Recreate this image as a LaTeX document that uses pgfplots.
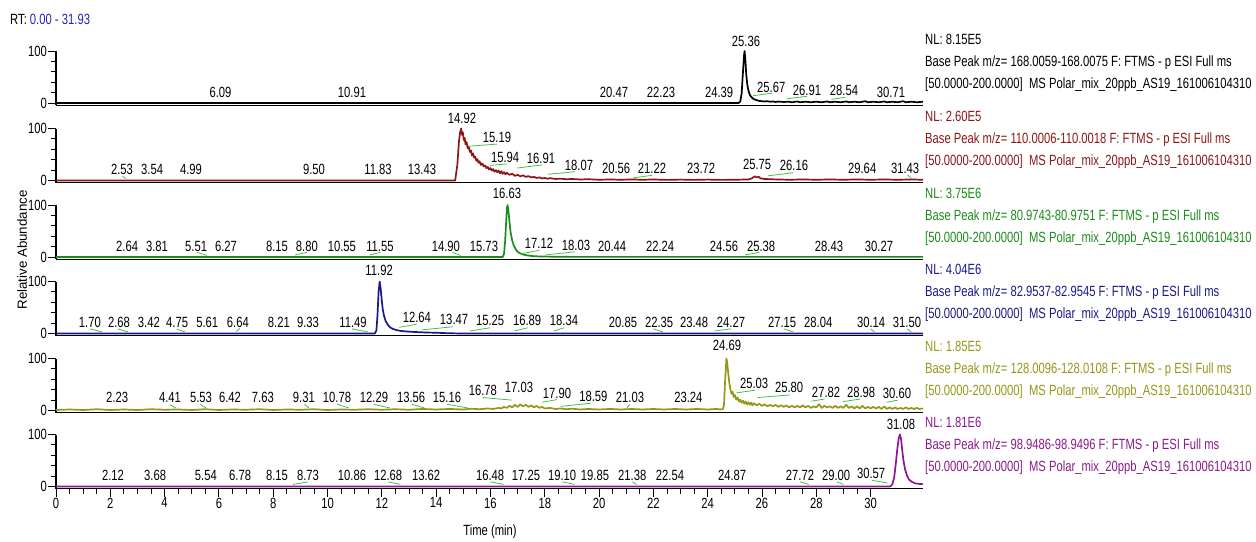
\documentclass[border=0pt]{standalone}
\usepackage{fontspec}
\setmainfont{Liberation Sans}[FakeStretch=0.76]
\newfontfamily\widesans{Liberation Sans}
\usepackage{pgfplots}
\pgfplotsset{compat=1.18}

\definecolor{trBlack}{RGB}{0,0,0}
\definecolor{trRed}{RGB}{140,22,22}
\definecolor{trGreen}{RGB}{25,140,25}
\definecolor{trBlue}{RGB}{25,25,135}
\definecolor{trOlive}{RGB}{150,150,25}
\definecolor{trPurple}{RGB}{140,25,140}
\definecolor{rtBlue}{RGB}{35,35,185}
\definecolor{leaderGreen}{RGB}{70,190,70}

\newcommand{\fs}{\fontsize{14.8}{17}\selectfont}
% peak label: x, y (axis units), text
\newcommand{\pk}[3]{\node[pklabel] at (axis cs:#1,#2) {#3};}
% leader line from a peak to its shifted label
\newcommand{\ld}[4]{\draw[leader] (axis cs:#1,#2) -- (axis cs:#3,#4);}

\tikzset{
  pklabel/.style={anchor=base, inner sep=0pt, font=\fs, text=black},
  leader/.style={leaderGreen, line width=0.8pt},
  info/.style={anchor=base west, inner sep=0pt, font=\fs},
}

\pgfplotsset{
  panel/.style={
    scale only axis, width=867pt, height=54.08pt,
    xmin=0, xmax=31.93, ymin=-4, ymax=100,
    axis x line=bottom, axis y line=left,
    axis line style={-, black, line width=1.1pt},
    xtick=\empty, ytick={0,100}, minor ytick={20,40,60,80},
    tick align=outside, major tick length=8pt, minor tick length=5pt,
    every tick/.style={black, line width=0.9pt},
    yticklabel style={font=\fs, inner sep=1pt},
    /pgf/number format/assume math mode=true,
    clip=false,
  },
  trace/.style={line width=1.7pt, line join=round},
}

\begin{document}
\begin{tikzpicture}
\path[use as bounding box] (0,0) rectangle (1256pt,-541pt);

% ---------- 1: m/z 168.0059-168.0075 ----------
\begin{axis}[panel, at={(56pt,-105.1pt)}, anchor=south west]
\addplot[trace, trBlack] coordinates {
(0,0) (25.14,0) (25.2,3) (25.25,18) (25.3,60) (25.34,92) (25.36,100) (25.39,82)
(25.42,55) (25.46,35) (25.5,24) (25.55,16) (25.6,12) (25.66,9) (25.72,7) (25.8,5.5)
(25.9,4) (26.0,3.5) (26.1,3) (26.2,3.5) (26.3,2.5) (26.4,3) (26.5,2) (26.6,2.8)
(26.8,2) (27.0,2.5) (27.1,1.5) (27.3,3) (27.4,1.5) (27.6,2.5) (27.8,1.5) (28.0,2.5)
(28.2,1.5) (28.4,3) (28.5,1.5) (28.7,2.5) (28.9,1.5) (29.1,3) (29.2,1.5) (29.4,2.5)
(29.6,1.5) (29.8,3.5) (29.9,1.5) (30.1,2.5) (30.3,1.5) (30.5,3) (30.6,1.5) (30.8,2.5)
(31.0,1.5) (31.2,3.5) (31.3,1.5) (31.5,2.5) (31.7,1.5) (31.93,2.5)
};
\pk{6.06}{11.5}{6.09}
\pk{10.90}{11.5}{10.91}
\pk{20.55}{11.5}{20.47}
\pk{22.28}{11.5}{22.23}
\pk{24.42}{11.5}{24.39}
\pk{25.41}{109}{25.36}
\pk{26.34}{21}{25.67} \ld{25.67}{14}{26.37}{19}
\pk{27.66}{15.4}{26.91} \ld{26.91}{8}{27.66}{13}
\pk{29.02}{15.4}{28.54} \ld{28.56}{7}{29.06}{11}
\pk{30.75}{11.5}{30.71}
\end{axis}

% ---------- 2: m/z 110.0006-110.0018 ----------
\begin{axis}[panel, at={(56pt,-182.6pt)}, anchor=south west]
\addplot[trace, trRed] coordinates {
(0,0) (14.70,0) (14.78,30) (14.84,75) (14.88,92) (14.92,100) (14.95,88) (14.98,93)
(15.02,78) (15.05,82) (15.08,70) (15.12,74) (15.16,62) (15.2,65) (15.24,55) (15.28,58)
(15.32,48) (15.36,52) (15.4,44) (15.44,46) (15.48,38) (15.52,41) (15.56,34) (15.6,37)
(15.65,30) (15.7,33) (15.75,27) (15.8,29) (15.85,24) (15.9,26) (15.95,21) (16.0,24)
(16.05,19) (16.1,22) (16.15,17) (16.2,20) (16.25,16) (16.3,19) (16.35,14) (16.4,18)
(16.45,13) (16.5,16) (16.55,12) (16.6,15) (16.7,11) (16.8,13) (16.9,9) (17.0,11)
(17.1,8) (17.2,10) (17.3,7) (17.4,8.5) (17.5,6) (17.6,7) (17.7,5) (17.8,6)
(17.9,4) (18.0,5) (18.1,3.5) (18.2,4.5) (18.4,3) (18.6,3.5) (18.8,2.5) (19.0,3)
(19.3,2) (19.6,2.5) (20.0,1.5) (20.4,2) (20.8,1.5) (21.2,2) (21.6,1.5) (22.0,2)
(22.5,1.2) (23.0,1.8) (23.5,1.2) (24.0,1.8) (24.5,1.2) (25.0,1.5) (25.5,2) (25.62,4)
(25.7,7) (25.75,8) (25.8,6) (25.88,7) (25.95,4) (26.1,3) (26.3,2.5) (26.6,2)
(27.0,1.5) (27.5,2) (28.0,1.5) (28.5,2) (29.0,1.5) (29.5,2) (30.0,1.5) (30.5,2)
(31.0,1.5) (31.5,2) (31.93,1.5)
};
\pk{2.43}{11.5}{2.53} \ld{2.45}{8}{2.58}{4}
\pk{3.54}{11.5}{3.54}
\pk{4.97}{11.5}{4.99}
\pk{9.50}{11.5}{9.50}
\pk{11.86}{11.5}{11.83}
\pk{13.48}{11.5}{13.43}
\pk{14.95}{109}{14.92}
\pk{16.24}{73}{15.19} \ld{15.19}{66}{16.24}{70}
\pk{16.54}{35}{15.94} \ld{15.99}{29}{16.61}{32}
\pk{17.86}{33}{16.91} \ld{16.98}{24}{17.9}{30}
\pk{19.26}{20}{18.07} \ld{18.12}{12}{19.12}{17}
\pk{20.63}{13}{20.56}
\pk{21.95}{13}{21.22} \ld{21.25}{5}{21.95}{10}
\pk{23.76}{13}{23.72}
\pk{25.82}{21}{25.75}
\pk{27.18}{19}{26.16} \ld{26.22}{9}{27.15}{15}
\pk{29.69}{13}{29.64}
\pk{31.27}{13}{31.43} \ld{31.36}{11}{31.5}{4}
\end{axis}

% ---------- 3: m/z 80.9743-80.9751 ----------
\begin{axis}[panel, at={(56pt,-259.1pt)}, anchor=south west]
\addplot[trace, trGreen] coordinates {
(0,0) (16.45,0) (16.5,6) (16.54,30) (16.58,70) (16.61,95) (16.63,100) (16.66,90)
(16.7,68) (16.74,48) (16.8,32) (16.86,22) (16.93,15) (17.0,10) (17.1,7) (17.2,5)
(17.3,3.5) (17.45,2.5) (17.6,1.5) (17.9,1) (18.4,0.5) (19.0,0.3) (31.93,0.3)
};
\pk{2.62}{11.5}{2.64}
\pk{3.72}{11.5}{3.81}
\pk{5.16}{11.5}{5.51} \ld{5.2}{9}{5.56}{3}
\pk{6.26}{11.5}{6.27}
\pk{8.14}{11.5}{8.15}
\pk{9.24}{11.5}{8.80} \ld{8.80}{4}{9.24}{9}
\pk{10.53}{11.5}{10.55}
\pk{11.93}{11.5}{11.55} \ld{11.55}{4}{11.95}{9}
\pk{14.36}{11.5}{14.90} \ld{14.6}{9}{14.9}{3}
\pk{15.76}{11.5}{15.73}
\pk{16.61}{113}{16.63}
\pk{17.79}{17}{17.12} \ld{17.12}{6}{17.8}{13}
\pk{19.15}{13.5}{18.03} \ld{18.03}{4}{19.1}{10}
\pk{20.48}{11.5}{20.44}
\pk{22.25}{11.5}{22.24}
\pk{24.60}{11.5}{24.56}
\pk{25.97}{11.5}{25.38} \ld{25.38}{4}{25.9}{9}
\pk{28.47}{11.5}{28.43}
\pk{30.31}{11.5}{30.27}
\end{axis}

% ---------- 4: m/z 82.9537-82.9545 ----------
\begin{axis}[panel, at={(56pt,-335.6pt)}, anchor=south west]
\addplot[trace, trBlue] coordinates {
(0,0) (11.74,0) (11.8,6) (11.84,35) (11.88,80) (11.92,100) (11.95,90) (11.99,68)
(12.03,48) (12.08,34) (12.14,24) (12.22,17) (12.3,12) (12.4,9) (12.55,6.5) (12.7,5)
(12.9,4) (13.2,3) (13.6,2) (14.0,1.5) (14.5,0.5) (15.0,0) (31.93,0)
};
\pk{1.25}{11.5}{1.70} \ld{1.25}{9}{1.70}{3}
\pk{2.32}{11.5}{2.68} \ld{2.28}{9}{2.65}{3}
\pk{3.42}{11.5}{3.42}
\pk{4.46}{11.5}{4.75} \ld{4.46}{8}{4.75}{3}
\pk{5.57}{11.5}{5.61}
\pk{6.70}{11.5}{6.64} \ld{6.64}{4}{6.78}{10}
\pk{8.21}{11.5}{8.21}
\pk{9.28}{11.5}{9.33}
\pk{10.94}{11.5}{11.49} \ld{10.9}{9}{11.49}{3}
\pk{11.90}{111}{11.92}
\pk{13.29}{21}{12.64} \ld{12.64}{12}{13.29}{18}
\pk{14.66}{17}{13.47} \ld{13.47}{7}{14.62}{13}
\pk{15.99}{15}{15.25} \ld{15.25}{5}{15.99}{11}
\pk{17.35}{15}{16.89} \ld{16.89}{5}{17.37}{11}
\pk{18.71}{15}{18.34} \ld{18.34}{5}{18.71}{11}
\pk{20.88}{11.5}{20.85}
\pk{22.21}{11.5}{22.35} \ld{22.0}{9}{22.35}{3}
\pk{23.50}{11.5}{23.48}
\pk{24.86}{11.5}{24.27} \ld{24.27}{5}{24.86}{9}
\pk{26.74}{11.5}{27.15} \ld{26.8}{9}{27.15}{3}
\pk{28.07}{11.5}{28.04}
\pk{30.02}{11.5}{30.14} \ld{30.0}{9}{30.14}{3}
\pk{31.34}{11.5}{31.50} \ld{31.34}{9}{31.5}{3}
\end{axis}

% ---------- 5: m/z 128.0096-128.0108 ----------
\begin{axis}[panel, at={(56pt,-412.6pt)}, anchor=south west]
\addplot[trace, trOlive] coordinates {
(0,1) (0.5,2) (1,1) (1.5,2.5) (2,1) (2.5,2) (3,1) (3.5,2.5) (4,1.5) (4.5,2)
(5,1) (5.5,2.5) (6,1) (6.5,2) (7,1.5) (7.5,2.5) (8,1) (8.5,2) (9,1.5) (9.5,2.5)
(10,1) (10.5,2) (11,1.5) (11.5,2.5) (12,1.5) (12.5,2.5) (13,1.5) (13.5,3) (14,2)
(14.5,3) (15,2) (15.3,3.5) (15.6,2.5) (15.9,4) (16.1,3) (16.3,5) (16.4,4) (16.5,7)
(16.6,5) (16.7,9) (16.8,6) (16.9,11) (17.0,7) (17.1,12) (17.2,8) (17.3,11) (17.4,7)
(17.5,10) (17.6,6) (17.7,9) (17.8,5) (17.9,7) (18.0,4) (18.2,5) (18.4,3) (18.6,4)
(18.8,2.5) (19,3.5) (19.3,2) (19.6,3) (20,2) (20.4,3) (20.8,2) (21.2,3) (21.6,2)
(22,3) (22.4,2) (22.8,3) (23.2,2) (23.6,3) (24,2) (24.3,3) (24.55,2) (24.6,10)
(24.64,55) (24.69,100) (24.72,92) (24.76,70) (24.8,52) (24.84,40) (24.88,32)
(24.92,36) (24.96,26) (25.0,30) (25.05,21) (25.1,25) (25.15,17) (25.2,21) (25.25,15)
(25.3,19) (25.35,13) (25.4,17) (25.45,12) (25.5,16) (25.55,11) (25.6,15) (25.65,10)
(25.7,14) (25.8,10) (25.9,13) (26.0,9) (26.1,12) (26.2,8) (26.3,11) (26.4,8)
(26.5,11) (26.6,7) (26.7,10) (26.8,7) (26.9,10) (27.0,6) (27.1,9) (27.2,6) (27.3,9)
(27.4,6) (27.5,10) (27.6,6) (27.7,9) (27.8,5) (27.9,8) (28.0,6) (28.1,12) (28.2,5)
(28.3,9) (28.4,6) (28.5,8) (28.6,5) (28.7,9) (28.8,5) (28.9,8) (29.0,5) (29.1,11)
(29.2,5) (29.3,8) (29.4,4) (29.5,8) (29.6,4) (29.7,9) (29.8,4) (29.9,7) (30.0,4)
(30.1,7) (30.2,4) (30.3,7) (30.4,3) (30.5,8) (30.6,3) (30.7,6) (30.8,3) (30.9,6)
(31.0,3) (31.1,5) (31.2,3) (31.3,6) (31.4,3) (31.5,5) (31.6,3) (31.7,5) (31.8,3)
(31.93,4)
};
\pk{2.25}{14.5}{2.23}
\pk{4.20}{14.5}{4.41} \ld{4.2}{11}{4.41}{5}
\pk{5.34}{14.5}{5.53} \ld{5.3}{12}{5.53}{5}
\pk{6.41}{14.5}{6.42}
\pk{7.62}{14.5}{7.63}
\pk{9.13}{14.5}{9.31} \ld{9.15}{12}{9.31}{5}
\pk{10.35}{16}{10.78} \ld{10.35}{12}{10.78}{5}
\pk{11.71}{16}{12.29} \ld{11.7}{12}{12.29}{5}
\pk{13.08}{16}{13.56} \ld{13.1}{12}{13.56}{5}
\pk{14.40}{16}{15.16} \ld{14.4}{12}{15.16}{5}
\pk{15.72}{28}{16.78} \ld{15.72}{25}{16.78}{20}
\pk{17.05}{34}{17.03}
\pk{18.45}{24}{17.90} \ld{17.90}{16}{18.45}{21}
\pk{19.79}{17}{18.59} \ld{18.59}{8}{19.7}{14}
\pk{21.14}{14.5}{21.03} \ld{21.03}{5}{21.12}{12}
\pk{23.29}{16}{23.24}
\pk{24.71}{116}{24.69}
\pk{25.71}{43}{25.03} \ld{25.06}{34}{25.75}{39}
\pk{27.00}{34}{25.80} \ld{25.84}{25}{27.03}{30}
\pk{28.36}{26}{27.82} \ld{27.82}{18}{28.3}{22}
\pk{29.65}{26}{28.98} \ld{28.98}{17}{29.6}{22}
\pk{30.97}{24}{30.60} \ld{30.6}{16}{31.0}{20}
\end{axis}

% ---------- 6: m/z 98.9486-98.9496 ----------
\begin{axis}[panel, at={(56pt,-488.6pt)}, anchor=south west,
  xtick={0,2,...,30}, minor x tick num=3,
  xticklabel style={font=\fs, inner sep=1pt}]
\addplot[trace, trPurple] coordinates {
(0,0) (30.72,0) (30.8,4) (30.87,18) (30.93,45) (30.99,75) (31.04,94) (31.08,100)
(31.12,92) (31.16,72) (31.21,50) (31.27,33) (31.34,21) (31.42,13) (31.52,9)
(31.65,6) (31.8,5) (31.93,4.5)
};
\pk{2.10}{11.5}{2.12}
\pk{3.65}{11.5}{3.68}
\pk{5.52}{11.5}{5.54}
\pk{6.78}{11.5}{6.78}
\pk{8.14}{11.5}{8.15}
\pk{9.28}{11.5}{8.73} \ld{8.73}{4}{9.28}{9}
\pk{10.90}{11.5}{10.86}
\pk{12.23}{11.5}{12.68} \ld{12.23}{9}{12.68}{4}
\pk{13.63}{11.5}{13.62}
\pk{15.99}{11.5}{16.48} \ld{16.0}{9}{16.48}{4}
\pk{17.31}{11.5}{17.25}
\pk{18.64}{11.5}{19.10} \ld{18.65}{9}{19.10}{4}
\pk{19.85}{11.5}{19.85}
\pk{21.22}{11.5}{21.38} \ld{21.22}{9}{21.38}{4}
\pk{22.61}{11.5}{22.54}
\pk{24.90}{11.5}{24.87}
\pk{27.40}{11.5}{27.72} \ld{27.4}{9}{27.72}{4}
\pk{28.73}{11.5}{29.00} \ld{28.75}{9}{29.0}{4}
\pk{30.02}{14.5}{30.57} \ld{30.05}{12}{30.62}{7}
\pk{31.12}{110}{31.08}
\end{axis}

% ---------- scan descriptions ----------
\node[info, text=trBlack] at (925pt,-44pt) {NL: 8.15E5};
\node[info, text=trBlack] at (925pt,-66pt) {Base Peak m/z= 168.0059-168.0075 F: FTMS - p ESI Full ms};
\node[info, text=trBlack] at (925pt,-88pt) {[50.0000-200.0000]\ \ MS Polar\_mix\_20ppb\_AS19\_161006104310};

\node[info, text=trRed] at (925pt,-121.5pt) {NL: 2.60E5};
\node[info, text=trRed] at (925pt,-143.5pt) {Base Peak m/z= 110.0006-110.0018 F: FTMS - p ESI Full ms};
\node[info, text=trRed] at (925pt,-165.5pt) {[50.0000-200.0000]\ \ MS Polar\_mix\_20ppb\_AS19\_161006104310};

\node[info, text=trGreen] at (925pt,-198pt) {NL: 3.75E6};
\node[info, text=trGreen] at (925pt,-220pt) {Base Peak m/z= 80.9743-80.9751 F: FTMS - p ESI Full ms};
\node[info, text=trGreen] at (925pt,-242pt) {[50.0000-200.0000]\ \ MS Polar\_mix\_20ppb\_AS19\_161006104310};

\node[info, text=trBlue] at (925pt,-274.5pt) {NL: 4.04E6};
\node[info, text=trBlue] at (925pt,-296.5pt) {Base Peak m/z= 82.9537-82.9545 F: FTMS - p ESI Full ms};
\node[info, text=trBlue] at (925pt,-318.5pt) {[50.0000-200.0000]\ \ MS Polar\_mix\_20ppb\_AS19\_161006104310};

\node[info, text=trOlive] at (925pt,-351.5pt) {NL: 1.85E5};
\node[info, text=trOlive] at (925pt,-373.5pt) {Base Peak m/z= 128.0096-128.0108 F: FTMS - p ESI Full ms};
\node[info, text=trOlive] at (925pt,-395.5pt) {[50.0000-200.0000]\ \ MS Polar\_mix\_20ppb\_AS19\_161006104310};

\node[info, text=trPurple] at (925pt,-427.5pt) {NL: 1.81E6};
\node[info, text=trPurple] at (925pt,-449.5pt) {Base Peak m/z= 98.9486-98.9496 F: FTMS - p ESI Full ms};
\node[info, text=trPurple] at (925pt,-471.5pt) {[50.0000-200.0000]\ \ MS Polar\_mix\_20ppb\_AS19\_161006104310};

% ---------- titles ----------
\node[anchor=base west, inner sep=0pt, font=\fs] at (10pt,-24pt) {RT: \textcolor{rtBlue}{0.00 - 31.93}};
\node[rotate=90, inner sep=0pt, font=\widesans\fontsize{13.3}{15}\selectfont] at (22pt,-250pt) {Relative Abundance};
\node[anchor=base, inner sep=0pt, font=\fs] at (490pt,-535pt) {Time (min)};
\end{tikzpicture}
\end{document}
